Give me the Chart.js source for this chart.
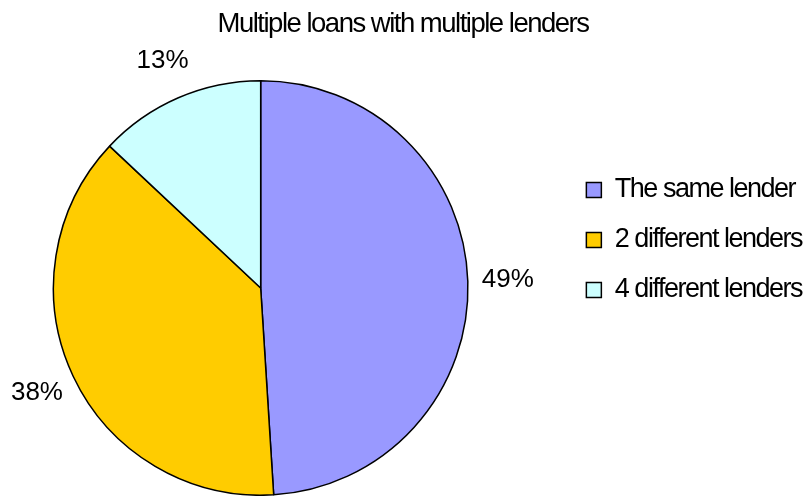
<!DOCTYPE html>
<html>
<head>
<meta charset="utf-8">
<title>Multiple loans with multiple lenders</title>
<script src="https://cdn.jsdelivr.net/npm/chart.js@4.4.1/dist/chart.umd.min.js"></script>
<style>
  html, body { margin: 0; padding: 0; background: #fff; }
  .chart-box { width: 806px; height: 496px; position: relative; }
</style>
</head>
<body>
<div class="chart-box">
  <canvas id="lenderChart"></canvas>
</div>
<script>
'use strict';

const lenderGroups = ['The same lender', '2 different lenders', '4 different lenders'];
const shares = [49, 38, 13];
const sliceColors = ['#9999FF', '#FFCC00', '#CCFFFF'];

const textFont = "'Liberation Sans', Arial, sans-serif";

// title and legend use tight letter spacing, set on the context before measuring and drawing
const tightText = {
  id: 'tightText',
  beforeUpdate(chart) {
    chart.ctx.letterSpacing = '-1.5px';
  },
  beforeDraw(chart) {
    chart.ctx.letterSpacing = '-1.5px';
  }
};

// percent labels just outside each slice, on the slice's middle angle
const pctLabels = {
  id: 'pctLabels',
  afterDatasetsDraw(chart) {
    const ctx = chart.ctx;
    const meta = chart.getDatasetMeta(0);
    ctx.save();
    ctx.letterSpacing = '0px';
    ctx.font = '26px ' + textFont;
    ctx.fillStyle = '#000';
    ctx.textAlign = 'center';
    ctx.textBaseline = 'middle';
    meta.data.forEach((arc, i) => {
      const { x, y, startAngle, endAngle, outerRadius } =
        arc.getProps(['x', 'y', 'startAngle', 'endAngle', 'outerRadius'], true);
      const mid = (startAngle + endAngle) / 2;
      const r = outerRadius + 40;
      ctx.fillText(shares[i] + '%', x + Math.cos(mid) * r, y + Math.sin(mid) * r);
    });
    ctx.restore();
  }
};

// pie sits well left of the legend, legend block a little above the middle
const layoutTweak = {
  id: 'layoutTweak',
  afterLayout(chart) {
    const legend = chart.legend;
    legend.left += 6;
    legend.right += 6;
    legend.top -= 8;
    legend.bottom -= 8;
    chart.chartArea.right = legend.left - 42;
    chart.chartArea.width = chart.chartArea.right - chart.chartArea.left;
  }
};

Chart.defaults.color = '#000';

new Chart(document.getElementById('lenderChart'), {
  type: 'pie',
  data: {
    labels: lenderGroups,
    datasets: [{
      data: shares,
      backgroundColor: sliceColors,
      borderColor: '#000',
      borderWidth: 1.5,
      hoverOffset: 0
    }]
  },
  options: {
    responsive: true,
    maintainAspectRatio: false,
    animation: false,
    layout: { padding: 0 },
    plugins: {
      title: {
        display: true,
        text: 'Multiple loans with multiple lenders',
        color: '#000',
        font: { family: textFont, size: 27.5, weight: 'normal' },
        padding: { top: 7.5, bottom: 39.5 }
      },
      legend: {
        position: 'right',
        labels: {
          boxWidth: 15,
          boxHeight: 15,
          padding: 23,
          color: '#000',
          font: { family: textFont, size: 27 }
        }
      },
      tooltip: { enabled: false }
    }
  },
  plugins: [tightText, pctLabels, layoutTweak]
});
</script>
</body>
</html>
